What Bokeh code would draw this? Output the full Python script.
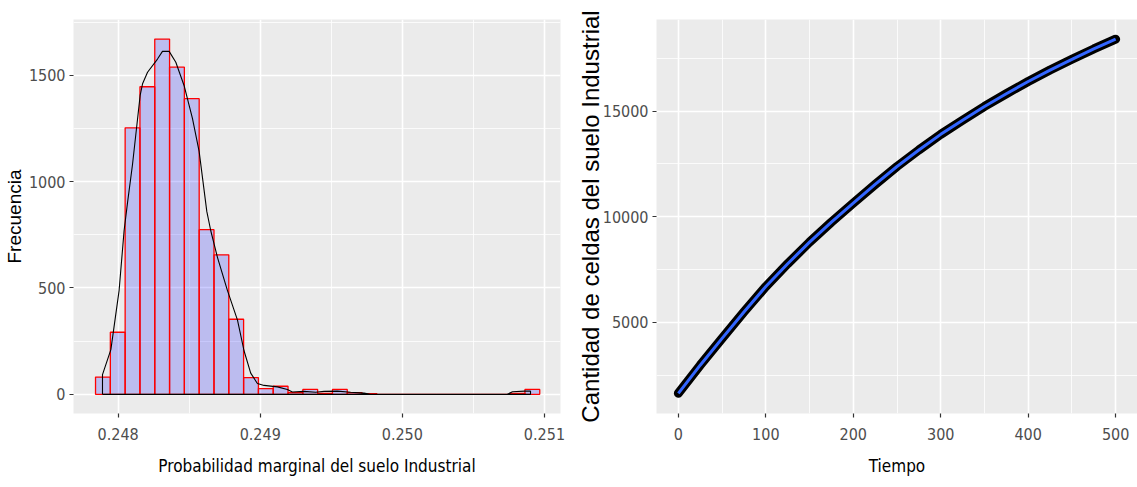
from bokeh.plotting import figure
from bokeh.models import FixedTicker, Range1d
from bokeh.layouts import row
from bokeh.embed import file_html
from bokeh.resources import INLINE

# ---------------- data: left panel (histogram + density) ----------------
bin_edges = [0.247841, 0.2479452, 0.2480494, 0.2481536, 0.2482578, 0.248362,
             0.2484662, 0.2485704, 0.2486746, 0.2487788, 0.248883, 0.2489872,
             0.2490914, 0.2491956, 0.2492998, 0.249404, 0.2495082, 0.2496124,
             0.2497166, 0.2498208, 0.249925, 0.2500292, 0.2501334, 0.2502376,
             0.2503418, 0.250446, 0.2505502, 0.2506544, 0.2507586, 0.2508628,
             0.250967]
hist_counts = [81, 292, 1253, 1446, 1670, 1538, 1390, 774, 656, 353,
               79, 27, 38, 8, 23, 5, 23, 8, 3, 0,
               0, 0, 0, 0, 0, 0, 0, 0, 4, 23]

dens_x = [0.247890, 0.247890, 0.247949, 0.248007, 0.248042, 0.248066, 0.248101,
          0.248155, 0.248172, 0.248207, 0.248277, 0.248312, 0.248359, 0.248406,
          0.248464, 0.248523, 0.248570, 0.248624, 0.248652, 0.248699, 0.248769,
          0.248840, 0.248886, 0.248933, 0.248980, 0.249027, 0.249121, 0.249191,
          0.249226, 0.249308, 0.249390, 0.249449, 0.249543, 0.249636, 0.249730,
          0.249777, 0.250738, 0.250775, 0.250860, 0.250902, 0.250902, 0.247890]
dens_y = [0, 93, 210, 489, 769, 900, 1079,
          1405, 1460, 1514, 1576, 1612, 1612, 1561,
          1452, 1297, 1142, 860, 769, 644, 489,
          349, 205, 100, 51, 42, 35, 23,
          11, 14, 10, 14, 15, 10, 6,
          0, 0, 12, 15, 15, 0, 0]

left_xticks = [0.248, 0.249, 0.250, 0.251]
left_xtick_labels = ["0.248", "0.249", "0.250", "0.251"]
left_xminor = [0.2485, 0.2495, 0.2505]
left_yticks = [0, 500, 1000, 1500]
left_ytick_labels = ["0", "500", "1000", "1500"]
left_yminor = [250, 750, 1250, 1750]

# ---------------- data: right panel (time series) ----------------
tiempo = [0, 25, 50, 75, 100, 125, 150, 175, 200, 225, 250,
          275, 300, 325, 350, 375, 400, 425, 450, 475, 500]
celdas = [1650, 2980, 4250, 5500, 6700, 7780, 8800, 9750, 10650, 11530, 12380,
          13160, 13900, 14570, 15220, 15820, 16400, 16940, 17450, 17940, 18400]

right_xticks = [0, 100, 200, 300, 400, 500]
right_xtick_labels = ["0", "100", "200", "300", "400", "500"]
right_xminor = [50, 150, 250, 350, 450]
right_yticks = [5000, 10000, 15000]
right_ytick_labels = ["5000", "10000", "15000"]
right_yminor = [2500, 7500, 12500, 17500]

NARROW = "DejaVu Sans Condensed, Liberation Sans"
REG = "Liberation Sans"


def style(p, xt, xl, xm, yt, yl, ym, xlabel, ylabel, ylabel_size, ystand):
    p.background_fill_color = "#EBEBEB"
    p.border_fill_color = "white"
    p.outline_line_color = None
    p.xaxis.ticker = FixedTicker(ticks=xt, minor_ticks=xm)
    p.yaxis.ticker = FixedTicker(ticks=yt, minor_ticks=ym)
    p.xaxis.major_label_overrides = dict(zip(xt, xl))
    p.yaxis.major_label_overrides = dict(zip(yt, yl))
    for ax in (p.xaxis[0], p.yaxis[0]):
        ax.axis_line_color = None
        ax.major_tick_out = 4
        ax.major_tick_in = 0
        ax.minor_tick_out = 0
        ax.minor_tick_in = 0
        ax.major_tick_line_color = "#333333"
        ax.major_tick_line_width = 1.2
        ax.major_label_text_color = "#4D4D4D"
        ax.major_label_text_font = NARROW
        ax.major_label_text_font_size = "16px"
    p.yaxis.major_label_standoff = 4
    p.xaxis.major_label_standoff = 10
    p.xaxis.axis_label = xlabel
    p.xaxis.axis_label_text_font = NARROW
    p.xaxis.axis_label_text_font_size = "17px"
    p.xaxis.axis_label_text_font_style = "normal"
    p.xaxis.axis_label_text_color = "black"
    p.xaxis.axis_label_standoff = 13
    p.yaxis.axis_label = ylabel
    p.yaxis.axis_label_text_font = REG
    p.yaxis.axis_label_text_font_size = ylabel_size
    p.yaxis.axis_label_text_font_style = "normal"
    p.yaxis.axis_label_text_color = "black"
    p.yaxis.axis_label_standoff = ystand
    for g in (p.xgrid[0], p.ygrid[0]):
        g.grid_line_color = "white"
        g.grid_line_width = 1.6
        g.minor_grid_line_color = "white"
        g.minor_grid_line_width = 0.8


# ---------------- left figure ----------------
p1 = figure(width=565, height=487, output_backend="svg", toolbar_location=None,
            x_range=Range1d(0.247686, 0.251113), y_range=Range1d(-90, 1762),
            min_border_left=73, min_border_right=5, min_border_top=19,
            min_border_bottom=69)
style(p1, left_xticks, left_xtick_labels, left_xminor,
      left_yticks, left_ytick_labels, left_yminor,
      "Probabilidad marginal del suelo Industrial", "Frecuencia", "19px", 1)

p1.quad(left=bin_edges[:-1], right=bin_edges[1:], top=hist_counts, bottom=0,
        fill_color="blue", fill_alpha=0.2, line_color="red", line_width=1.3)
p1.line(dens_x, dens_y, line_color="black", line_width=1.1)

# ---------------- right figure ----------------
p2 = figure(width=572, height=487, output_backend="svg", toolbar_location=None,
            x_range=Range1d(-25, 525), y_range=Range1d(695, 19333),
            min_border_left=91, min_border_right=0, min_border_top=19,
            min_border_bottom=74)
style(p2, right_xticks, right_xtick_labels, right_xminor,
      right_yticks, right_ytick_labels, right_yminor,
      "Tiempo", "Cantidad de celdas del suelo Industrial", "24px", -4)

p2.line(tiempo, celdas, line_color="black", line_width=9, line_cap="round",
        line_join="round")
p2.line(tiempo, celdas, line_color="#3366FF", line_width=3)

layout = row(p1, p2)
open("out.html", "w").write(file_html(layout, INLINE))
